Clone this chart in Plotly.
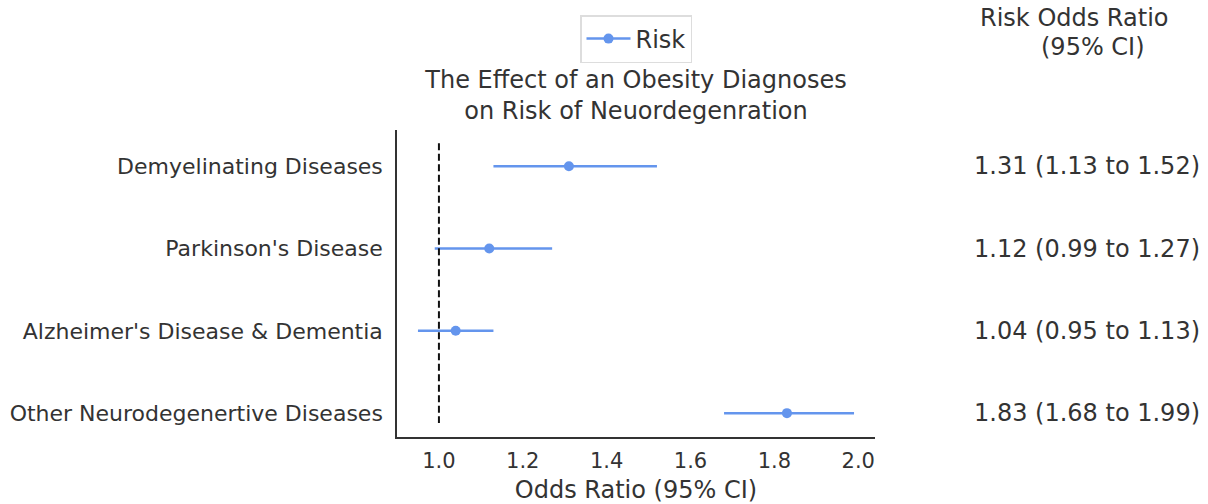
import plotly.graph_objects as go

# Odds ratios with 95% confidence intervals for each outcome group
diseases = [
    "Demyelinating Diseases",
    "Parkinson's Disease",
    "Alzheimer's Disease & Dementia",
    "Other Neurodegenertive Diseases",
]
odds_ratio = [1.31, 1.12, 1.04, 1.83]
ci_low = [1.13, 0.99, 0.95, 1.68]
ci_high = [1.52, 1.27, 1.13, 1.99]
x_ticks = [1.0, 1.2, 1.4, 1.6, 1.8, 2.0]

BLUE = "#6495ED"
TEXT = "#333333"
FONT = "DejaVu Sans"
rows = list(range(len(diseases)))

fig = go.Figure()

# confidence interval segments
seg_x, seg_y = [], []
for r, lo, hi in zip(rows, ci_low, ci_high):
    seg_x += [lo, hi, None]
    seg_y += [r, r, None]
fig.add_trace(go.Scatter(
    x=seg_x, y=seg_y, mode="lines",
    line=dict(color=BLUE, width=2.5),
    showlegend=False, hoverinfo="skip",
))

# point estimates
fig.add_trace(go.Scatter(
    x=odds_ratio, y=rows, mode="markers",
    marker=dict(color=BLUE, size=10),
    showlegend=False,
))

# legend entry
fig.add_trace(go.Scatter(
    x=[None], y=[None], mode="lines+markers", name="Risk",
    line=dict(color=BLUE, width=2.5),
    marker=dict(color=BLUE, size=10),
))

# reference line at OR = 1
fig.add_shape(
    type="line", xref="x", yref="y",
    x0=1.0, x1=1.0, y0=-0.28, y1=3.12,
    line=dict(color="#111111", width=2, dash="7px,3.5px"),
)

# right-hand column of estimates
col_right = (1202 - 397) / 478
for r, est, lo, hi in zip(rows, odds_ratio, ci_low, ci_high):
    fig.add_annotation(
        text=f"{est:.2f} ({lo:.2f} to {hi:.2f})",
        xref="paper", yref="y", x=col_right, y=r,
        xanchor="right", yanchor="middle", showarrow=False,
        font=dict(family=FONT, size=24, color=TEXT),
    )

fig.add_annotation(
    text="Risk Odds Ratio", xref="paper", yref="paper",
    x=(978 - 397) / 478, y=1 + (130 - 18) / 307,
    xanchor="left", yanchor="middle", showarrow=False,
    font=dict(family=FONT, size=24, color=TEXT),
)
fig.add_annotation(
    text="(95% CI)", xref="paper", yref="paper",
    x=(1039 - 397) / 478, y=1 + (130 - 47) / 307,
    xanchor="left", yanchor="middle", showarrow=False,
    font=dict(family=FONT, size=24, color=TEXT),
)

fig.update_layout(
    width=1208, height=504,
    margin=dict(l=397, r=333, t=130, b=67, autoexpand=False),
    paper_bgcolor="white", plot_bgcolor="white",
    font=dict(family=FONT, size=24, color=TEXT),
    title=dict(
        text="The Effect of an Obesity Diagnoses<br>on Risk of Neuordegenration",
        x=0.5, xref="paper", xanchor="center",
        y=1 - 88 / 504, yref="container", yanchor="top",
        font=dict(family=FONT, size=24, color=TEXT),
    ),
    legend=dict(
        x=0.5, xref="paper", xanchor="center",
        y=1 - 15 / 504, yref="container", yanchor="top",
        bordercolor="#dddddd", borderwidth=1.5,
        itemwidth=44,
        font=dict(family=FONT, size=24, color=TEXT),
    ),
    showlegend=True,
)

fig.update_xaxes(
    range=[0.9, 2.04], tickvals=x_ticks, ticktext=[f"{v:.1f}" for v in x_ticks],
    showgrid=False, zeroline=False, showline=True, linecolor="#333333", linewidth=1.5,
    ticks="", ticklabelstandoff=4, automargin=False,
    title=dict(text="Odds Ratio (95% CI)", standoff=9, font=dict(family=FONT, size=24, color=TEXT)),
    tickfont=dict(family=FONT, size=21, color=TEXT),
)
fig.update_yaxes(
    range=[3.29, -0.44], tickvals=rows, ticktext=diseases,
    showgrid=False, zeroline=False, showline=True, linecolor="#333333", linewidth=1.5,
    ticks="", ticklabelstandoff=8, automargin=False,
    tickfont=dict(family=FONT, size=22, color=TEXT),
)

fig.write_html("out.html")
